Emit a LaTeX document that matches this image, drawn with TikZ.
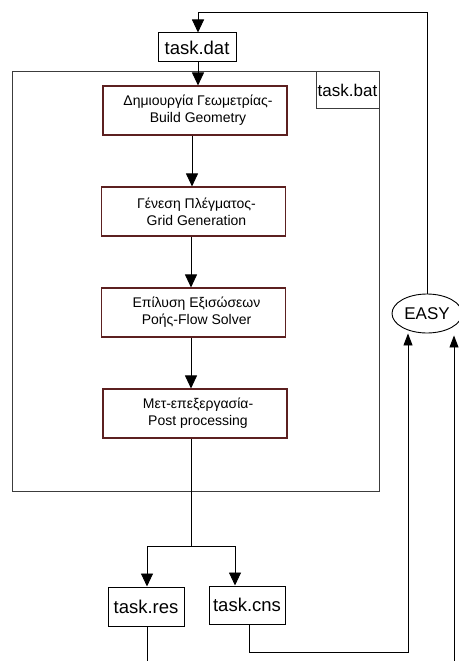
\documentclass[tikz,border=0pt]{standalone}
\usepackage{fontspec}
\setmainfont{Liberation Sans}
\usetikzlibrary{arrows.meta,shapes.geometric}
\definecolor{boxred}{RGB}{92,32,32}
\definecolor{framegray}{RGB}{60,60,60}
\begin{document}
\begin{tikzpicture}[x=1pt,y=-1pt,
  line width=0.9pt,
  arr/.style={-{Triangle[width=12pt,length=13pt]}},
  sarr/.style={-{Triangle[width=9pt,length=12pt]}},
  procbox/.style={draw=boxred,line width=1.1pt,minimum width=184pt,minimum height=49pt,inner sep=0pt,align=center,font=\fontsize{14}{17}\selectfont},
  filebox/.style={draw,line width=1pt,inner sep=0pt,font=\fontsize{18.5}{20}\selectfont}]
\useasboundingbox (0,0) rectangle (458,661);
% outer frame
\node[draw=framegray,line width=1pt,minimum width=367pt,minimum height=419pt,inner sep=0pt] (frame) at (195.5,281.5) {};
\node[filebox,draw=framegray,minimum width=63pt,minimum height=36pt,font=\fontsize{17}{19}\selectfont] (bat) at (347.5,90) {task.bat};
\node[filebox,minimum width=78pt,minimum height=29pt] (dat) at (197,47.5) {task.dat};
\node[procbox] (b1) at (195,110.5) {\hspace*{6pt}Δημιουργία Γεωμετρίας-\\\hspace*{6pt}Build Geometry};
\node[procbox] (b2) at (193.5,211.5) {\hspace*{6pt}Γένεση Πλέγματος-\\\hspace*{6pt}Grid Generation};
\node[procbox] (b3) at (193.5,312.5) {\hspace*{6pt}Επίλυση Εξισώσεων\\\hspace*{6pt}Ροής-Flow Solver};
\node[procbox] (b4) at (195,413.5) {\hspace*{6pt}Μετ-επεξεργασία-\\\hspace*{6pt}Post processing};
\node[filebox,minimum width=76pt,minimum height=39pt] (res) at (146,606.5) {task.res};
\node[filebox,minimum width=76pt,minimum height=38pt] (cns) at (247,605) {task.cns};
\node[draw,ellipse,line width=0.9pt,minimum width=70pt,minimum height=39pt,inner sep=0pt,font=\fontsize{17}{19}\selectfont] (easy) at (427,313.5) {EASY};
% coordinates
\coordinate (top) at (198,12);
\coordinate (split) at (191,546);
\coordinate (resend) at (147,661);
\coordinate (cnsturn) at (408,652);
\coordinate (rr) at (454,661);
% connectors
\draw[arr] (easy.north) |- (top) -- (top |- dat.north);
\draw[arr] (top |- dat.south) -- (top |- b1.north);
\draw[arr] (192,135) coordinate (a1) (b1.south -| a1) -- (b2.north -| a1);
\draw[arr] (191,236) coordinate (a2) (b2.south -| a2) -- (b3.north -| a2);
\draw[arr] (b3.south -| a2) -- (b4.north -| a2);
\draw (b4.south -| split) -- (split);
\draw[arr] (split) -| (res.north -| resend);
\draw[arr] (split) -| ([xshift=-12pt]cns.north);
\draw (res.south -| resend) -- (resend);
\draw[sarr] ([xshift=2pt]cns.south) |- (cnsturn) -- (easy.south -| cnsturn);
\draw[sarr] (rr) -- ([yshift=-2pt]easy.south -| rr);
\end{tikzpicture}
\end{document}
